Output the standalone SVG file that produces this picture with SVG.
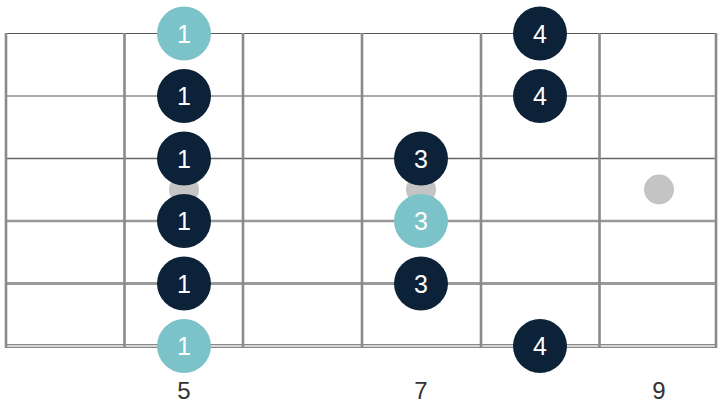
<svg xmlns="http://www.w3.org/2000/svg" width="720" height="405" viewBox="0 0 720 405">
<style>
.str{stroke:#555;fill:none}
.fret{stroke:#8a8a8a;stroke-width:2.6;fill:none}
.inlay{fill:#c4c4c4}
.dark{fill:#0c2239}
.root{fill:#7cc3c9}
.nt{font-family:"Liberation Sans",Arial,sans-serif;font-size:25px;fill:#ffffff;text-anchor:middle}
.fl{font-family:"Liberation Sans",Arial,sans-serif;font-size:24px;fill:#333;text-anchor:middle}
</style>
<rect width="720" height="405" fill="#ffffff"/>
<g id="board">
<line class="str" x1="6" y1="33.5" x2="717" y2="33.5" stroke-width="1.2"/>
<line class="str" x1="6" y1="96" x2="717" y2="96" stroke-width="1.2"/>
<line class="str" x1="6" y1="158.5" x2="717" y2="158.5" stroke-width="1.6" style="stroke:#666"/>
<line class="str" x1="6" y1="221" x2="717" y2="221" stroke-width="2.6" style="stroke:#999"/>
<line class="str" x1="6" y1="283.5" x2="717" y2="283.5" stroke-width="3" style="stroke:#999"/>
<line class="str" x1="6" y1="346" x2="717" y2="346" stroke-width="4" style="stroke:#888"/>
<line x1="6" y1="346" x2="717" y2="346" stroke="#f0f0f0" stroke-width="1.3"/>
<line class="fret" x1="6" y1="33" x2="6" y2="348"/>
<line class="fret" x1="124.5" y1="33" x2="124.5" y2="348"/>
<line class="fret" x1="243" y1="33" x2="243" y2="348"/>
<line class="fret" x1="362" y1="33" x2="362" y2="348"/>
<line class="fret" x1="481" y1="33" x2="481" y2="348"/>
<line class="fret" x1="599.5" y1="33" x2="599.5" y2="348"/>
<line class="fret" x1="716" y1="33" x2="716" y2="348"/>
<circle class="inlay" cx="184" cy="189.5" r="15"/>
<circle class="inlay" cx="421" cy="189.5" r="15"/>
<circle class="inlay" cx="659" cy="189.5" r="15"/>
</g>
<g id="n1"><circle class="root" cx="184" cy="33.5" r="27"/><text class="nt" x="184" y="42.5">1</text></g>
<g id="n2"><circle class="dark" cx="184" cy="96" r="27"/><text class="nt" x="184" y="105">1</text></g>
<g id="n3"><circle class="dark" cx="184" cy="158.5" r="27"/><text class="nt" x="184" y="167.5">1</text></g>
<g id="n4"><circle class="dark" cx="184" cy="221" r="27"/><text class="nt" x="184" y="230">1</text></g>
<g id="n5"><circle class="dark" cx="184" cy="283.5" r="27"/><text class="nt" x="184" y="292.5">1</text></g>
<g id="n6"><circle class="root" cx="184" cy="346" r="27"/><text class="nt" x="184" y="355">1</text></g>
<g id="n7"><circle class="dark" cx="421" cy="158.5" r="27"/><text class="nt" x="421" y="167.5">3</text></g>
<g id="n8"><circle class="root" cx="421" cy="221" r="27"/><text class="nt" x="421" y="230">3</text></g>
<g id="n9"><circle class="dark" cx="421" cy="283.5" r="27"/><text class="nt" x="421" y="292.5">3</text></g>
<g id="n10"><circle class="dark" cx="540" cy="33.5" r="27"/><text class="nt" x="540" y="42.5">4</text></g>
<g id="n11"><circle class="dark" cx="540" cy="96" r="27"/><text class="nt" x="540" y="105">4</text></g>
<g id="n12"><circle class="dark" cx="540" cy="346" r="27"/><text class="nt" x="540" y="355">4</text></g>
<g id="labels">
<text class="fl" x="184" y="399">5</text>
<text class="fl" x="421" y="399">7</text>
<text class="fl" x="659" y="399">9</text>
</g>
</svg>
